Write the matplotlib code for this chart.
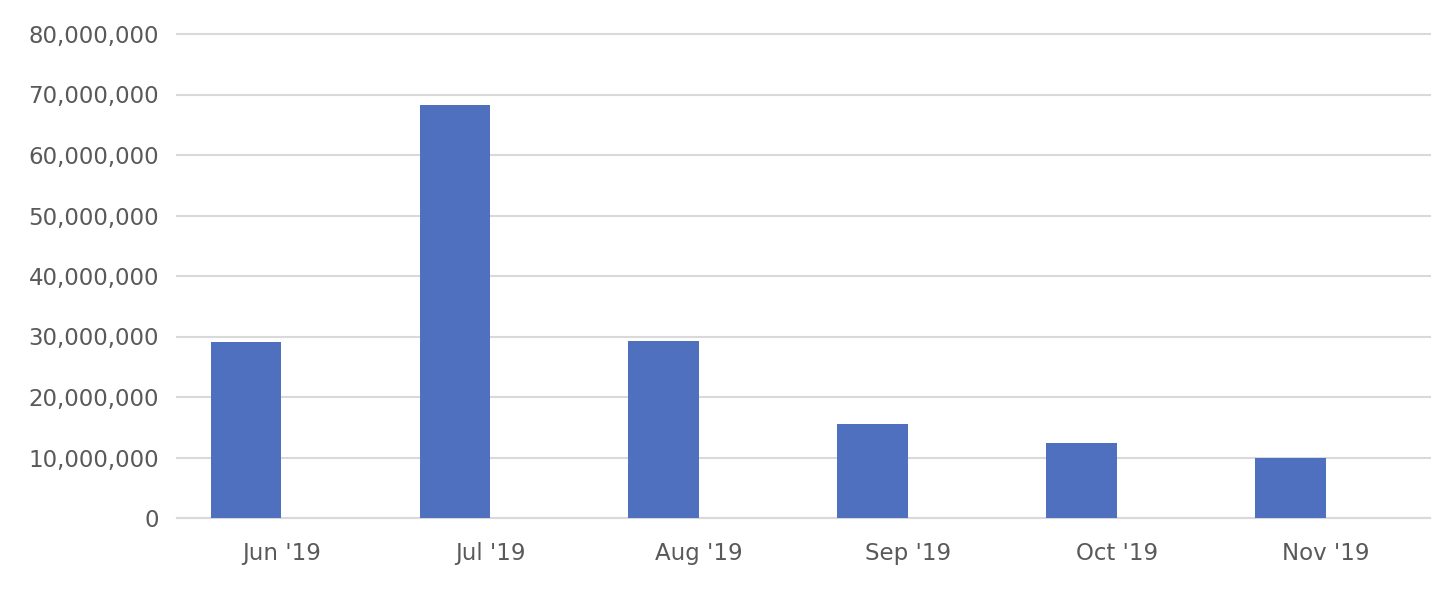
import matplotlib.pyplot as plt
import matplotlib.ticker as mticker
import numpy as np

# Monthly totals
months = ["Jun '19", "Jul '19", "Aug '19", "Sep '19", "Oct '19", "Nov '19"]
values = [29100000, 68300000, 29300000, 15500000, 12400000, 10000000]

fig = plt.figure(figsize=(14.56, 6.08), dpi=100)
ax = fig.add_axes([177 / 1456, 1 - 518 / 608, (1430 - 177) / 1456, (518 - 34) / 608])

x = np.arange(len(months))
bar_w = 0.338
# bars sit in the left half of each slot (empty second series in the source)
ax.bar(x - bar_w / 2, values, width=bar_w, color="#4E70BE", zorder=3)

ax.set_xlim(-0.5, len(months) - 0.5)
ax.set_ylim(0, 80000000)
ax.yaxis.set_major_locator(mticker.MultipleLocator(10000000))
ax.yaxis.set_major_formatter(mticker.FuncFormatter(lambda v, p: f"{int(v):,}"))
ax.set_xticks(x)
ax.set_xticklabels(months)

ax.grid(axis="y", color="#D9D9D9", linewidth=1.5, zorder=0)
for gl in ax.get_ygridlines():
    gl.set_clip_on(False)
for s in ["top", "right", "left"]:
    ax.spines[s].set_visible(False)
ax.spines["bottom"].set_color("#D9D9D9")
ax.spines["bottom"].set_linewidth(1.5)

ax.tick_params(axis="y", length=0, pad=13, labelsize=16.5, labelcolor="#595959")
ax.tick_params(axis="x", length=0, pad=17, labelsize=16.5, labelcolor="#595959")

plt.savefig("out.png", dpi=100)
